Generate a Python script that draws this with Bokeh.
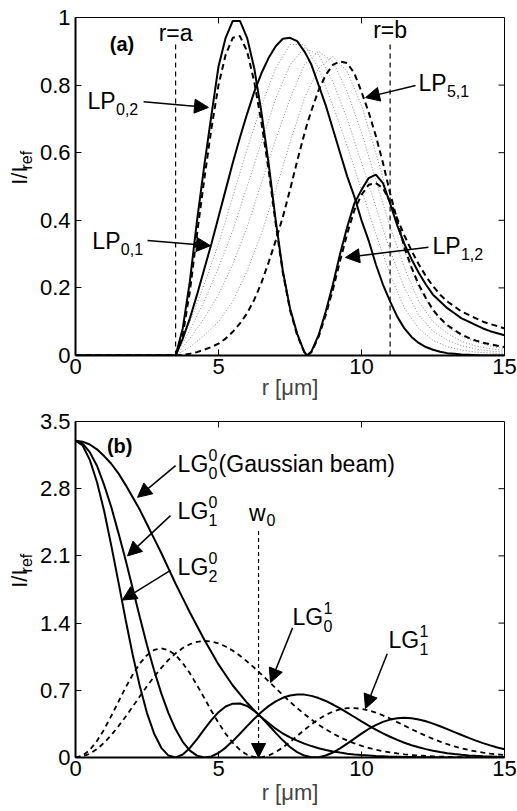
import math
from bokeh.plotting import figure
from bokeh.models import Label, Arrow, NormalHead, FixedTicker, Range1d, CustomJSTickFormatter
from bokeh.layouts import column, row
from bokeh.core.properties import value
from bokeh.embed import file_html
from bokeh.resources import INLINE

FONT = "Liberation Sans"

# ---------------- data: panel (a) ----------------
r_a = [0, 3.5, 3.75, 4, 4.25, 4.5, 4.75, 5, 5.25, 5.5, 5.75, 6, 6.25, 6.5, 6.75,
       7, 7.25, 7.5, 7.75, 8, 8.1, 8.25, 8.5, 8.75, 9, 9.25, 9.5, 9.75, 10, 10.25,
       10.5, 10.75, 11, 11.25, 11.5, 11.75, 12, 12.25, 12.5, 12.75, 13, 13.25,
       13.5, 13.75, 14, 14.25, 14.5, 14.75, 15]
lp01 = [0, 0, 0.05, 0.11, 0.18, 0.255, 0.33, 0.41, 0.49, 0.57, 0.645, 0.715, 0.78,
        0.835, 0.88, 0.915, 0.937, 0.94, 0.93, 0.90, 0.885, 0.86, 0.80, 0.74, 0.67,
        0.60, 0.53, 0.47, 0.40, 0.34, 0.27, 0.21, 0.16, 0.115, 0.08, 0.055, 0.037,
        0.025, 0.017, 0.011, 0.007, 0.005, 0.003, 0.002, 0.001, 0, 0, 0, 0]
lp02 = [0, 0, 0.08, 0.22, 0.40, 0.56, 0.71, 0.855, 0.94, 0.99, 0.99, 0.94, 0.85,
        0.72, 0.57, 0.40, 0.25, 0.14, 0.065, 0.01, 0, 0.012, 0.06, 0.13, 0.21,
        0.30, 0.38, 0.45, 0.49, 0.525, 0.535, 0.51, 0.45, 0.385, 0.33, 0.285,
        0.245, 0.21, 0.18, 0.16, 0.14, 0.125, 0.11, 0.10, 0.09, 0.08, 0.072,
        0.066, 0.06]
lp12 = [0, 0, 0.06, 0.19, 0.36, 0.52, 0.67, 0.80, 0.89, 0.94, 0.945, 0.90, 0.81,
        0.69, 0.55, 0.39, 0.245, 0.135, 0.06, 0.01, 0, 0.01, 0.055, 0.12, 0.195,
        0.28, 0.36, 0.43, 0.475, 0.505, 0.51, 0.495, 0.455, 0.405, 0.355, 0.31,
        0.27, 0.235, 0.205, 0.18, 0.16, 0.145, 0.13, 0.12, 0.11, 0.10, 0.093,
        0.087, 0.08]
lp51 = [0, 0, 0.002, 0.005, 0.01, 0.017, 0.025, 0.035, 0.05, 0.07, 0.095, 0.125,
        0.165, 0.215, 0.275, 0.34, 0.41, 0.49, 0.575, 0.655, 0.685, 0.725, 0.785,
        0.83, 0.86, 0.87, 0.865, 0.835, 0.78, 0.72, 0.65, 0.57, 0.48, 0.40, 0.32,
        0.26, 0.21, 0.17, 0.135, 0.11, 0.09, 0.075, 0.062, 0.052, 0.044, 0.038,
        0.033, 0.029, 0.025]

r_dot = [0, 3.5, 4, 4.5, 5, 5.5, 6, 6.5, 7, 7.5, 8, 8.5, 9, 9.5, 10, 10.5, 11,
         11.5, 12, 12.5, 13, 13.5, 14, 14.5, 15]
lp11 = [0, 0, 0.10, 0.21, 0.33, 0.47, 0.61, 0.74, 0.85, 0.92, 0.92, 0.85, 0.74,
        0.62, 0.49, 0.36, 0.24, 0.14, 0.08, 0.045, 0.026, 0.016, 0.010, 0.007, 0.005]
lp21 = [0, 0, 0.075, 0.16, 0.26, 0.37, 0.50, 0.63, 0.76, 0.86, 0.91, 0.89, 0.81,
        0.70, 0.57, 0.44, 0.31, 0.20, 0.12, 0.072, 0.045, 0.029, 0.019, 0.013, 0.010]
lp31 = [0, 0, 0.05, 0.11, 0.18, 0.27, 0.38, 0.51, 0.64, 0.76, 0.86, 0.90, 0.87,
        0.78, 0.66, 0.52, 0.38, 0.26, 0.16, 0.10, 0.065, 0.042, 0.028, 0.020, 0.015]
lp41 = [0, 0, 0.025, 0.06, 0.10, 0.16, 0.25, 0.36, 0.49, 0.63, 0.76, 0.85, 0.885,
        0.84, 0.74, 0.60, 0.45, 0.31, 0.20, 0.13, 0.085, 0.057, 0.040, 0.028, 0.020]

ring_r = [3.5, 11.0]          # r = a, r = b
ring_top = 0.926

# ---------------- data: panel (b) ----------------
r_b = [0, 0.25, 0.5, 0.75, 1, 1.25, 1.5, 1.75, 2, 2.25, 2.5, 2.75, 3,
       3.25, 3.5, 3.75, 4, 4.25, 4.5, 4.75, 5, 5.25, 5.5, 5.75, 6,
       6.25, 6.5, 6.75, 7, 7.25, 7.5, 7.75, 8, 8.25, 8.5, 8.75, 9,
       9.25, 9.5, 9.75, 10, 10.25, 10.5, 10.75, 11, 11.25, 11.5, 11.75, 12,
       12.25, 12.5, 12.75, 13, 13.25, 13.5, 13.75, 14, 14.25, 14.5, 14.75, 15]
lg00 = [3.30, 3.29, 3.26, 3.21, 3.14, 3.06, 2.96, 2.84, 2.71, 2.58, 2.43, 2.28, 2.13,
        1.97, 1.81, 1.66, 1.51, 1.37, 1.23, 1.10, 0.97, 0.86, 0.75, 0.66, 0.57,
        0.49, 0.42, 0.36, 0.30, 0.25, 0.21, 0.176, 0.145, 0.119, 0.097, 0.079, 0.063,
        0.051, 0.040, 0.032, 0.025, 0.020, 0.015, 0.012, 0.009, 0.007, 0.005, 0.004, 0.003,
        0.002, 0.002, 0.001, 0.001, 0.001, 0, 0, 0, 0, 0, 0, 0]
lg10 = [3.30, 3.27, 3.18, 3.04, 2.84, 2.61, 2.34, 2.06, 1.76, 1.46, 1.17, 0.907, 0.668,
        0.462, 0.293, 0.163, 0.072, 0.019, 0.0002, 0.011, 0.047, 0.103, 0.171, 0.248, 0.327,
        0.403, 0.474, 0.535, 0.585, 0.622, 0.646, 0.656, 0.655, 0.642, 0.619, 0.589, 0.552,
        0.511, 0.467, 0.422, 0.377, 0.333, 0.291, 0.252, 0.216, 0.183, 0.154, 0.128, 0.106,
        0.087, 0.070, 0.057, 0.045, 0.036, 0.028, 0.022, 0.017, 0.013, 0.010, 0.007, 0.006]
lg20 = [3.30, 3.25, 3.10, 2.87, 2.57, 2.21, 1.83, 1.44, 1.07, 0.741, 0.463, 0.248, 0.101,
        0.020, 0.0005, 0.031, 0.100, 0.192, 0.293, 0.390, 0.472, 0.531, 0.561, 0.563, 0.536,
        0.486, 0.418, 0.339, 0.257, 0.179, 0.110, 0.056, 0.020, 0.002, 0.003, 0.021, 0.052,
        0.095, 0.145, 0.197, 0.249, 0.297, 0.338, 0.371, 0.395, 0.409, 0.413, 0.409, 0.396,
        0.377, 0.353, 0.326, 0.296, 0.265, 0.234, 0.204, 0.176, 0.150, 0.126, 0.105, 0.086]
lg01 = [0, 0.010, 0.040, 0.088, 0.153, 0.233, 0.325, 0.425, 0.530, 0.637, 0.742, 0.842, 0.934,
        1.016, 1.085, 1.140, 1.180, 1.205, 1.214, 1.208, 1.188, 1.156, 1.113, 1.060, 1.000,
        0.935, 0.865, 0.794, 0.722, 0.650, 0.581, 0.515, 0.453, 0.395, 0.342, 0.294, 0.250,
        0.211, 0.177, 0.148, 0.122, 0.100, 0.082, 0.066, 0.053, 0.042, 0.033, 0.026, 0.021,
        0.016, 0.012, 0.009, 0.007, 0.005, 0.004, 0.003, 0.002, 0.002, 0.001, 0.001, 0.001]
lg11 = [0, 0.020, 0.079, 0.172, 0.292, 0.432, 0.580, 0.728, 0.863, 0.979, 1.066, 1.120, 1.138,
        1.119, 1.066, 0.983, 0.877, 0.753, 0.621, 0.487, 0.361, 0.247, 0.152, 0.079, 0.029,
        0.004, 0.002, 0.020, 0.056, 0.104, 0.162, 0.224, 0.287, 0.346, 0.399, 0.444, 0.478,
        0.501, 0.514, 0.515, 0.507, 0.491, 0.467, 0.438, 0.405, 0.369, 0.332, 0.295, 0.260,
        0.226, 0.194, 0.165, 0.139, 0.116, 0.095, 0.078, 0.063, 0.051, 0.040, 0.032, 0.025]
w0 = 6.4
w0_top = 2.36

x_ticks = [0, 5, 10, 15]
ya_ticks = [0, 0.2, 0.4, 0.6, 0.8, 1]
yb_ticks = [0, 0.7, 1.4, 2.1, 2.8, 3.5]

LW = 36          # width of the y-label strip
W = 517 - LW
HA = 408         # height of the upper row
HB = 811 - HA    # height of the lower row
TICK_PX = 22
LBL_PX = 23
SUB_PX = 16

fmt = CustomJSTickFormatter(code="return tick.toString();")


def make_fig(h, ymax, yt, bt, bb, xlab_standoff):
    p = figure(width=W, height=h, x_range=Range1d(0, 15), y_range=Range1d(0, ymax),
               output_backend="svg", toolbar_location=None,
               min_border_left=75 - LW, min_border_right=13, min_border_top=bt,
               min_border_bottom=bb)
    p.xgrid.visible = False
    p.ygrid.visible = False
    p.outline_line_color = "black"
    p.outline_line_width = 1
    for ax, tk in ((p.xaxis[0], x_ticks), (p.yaxis[0], yt)):
        ax.ticker = FixedTicker(ticks=tk)
        ax.formatter = fmt
        ax.major_tick_in = 6
        ax.major_tick_out = 0
        ax.minor_tick_line_color = None
        ax.axis_line_width = 2
        ax.major_tick_line_width = 1
        ax.major_label_text_font = FONT
        ax.major_label_text_font_size = f"{TICK_PX}px"
        ax.major_label_text_color = "black"
    p.xaxis[0].major_label_standoff = 3
    p.yaxis[0].major_label_standoff = 5
    p.xaxis[0].axis_label = "r [μm]"
    p.xaxis[0].axis_label_text_font = FONT
    p.xaxis[0].axis_label_text_font_size = "22px"
    p.xaxis[0].axis_label_text_font_style = "normal"
    p.xaxis[0].axis_label_standoff = xlab_standoff
    # mirrored ticks on the top and right edges of the box
    p.ray(x=x_ticks, y=[ymax] * len(x_ticks), length=6, length_units="screen",
          angle=-math.pi / 2, line_color="black", line_width=1)
    p.ray(x=[15] * len(yt), y=yt, length=6, length_units="screen",
          angle=math.pi, line_color="black", line_width=1)
    return p


def ylabel_strip(h, y_main, y_sub):
    f = figure(width=LW, height=h, x_range=Range1d(0, LW), y_range=Range1d(0, h),
               output_backend="svg", toolbar_location=None, min_border=0,
               x_axis_type=None, y_axis_type=None)
    f.grid.visible = False
    f.outline_line_color = None
    f.text(x=[18.5], y=[y_main], text=["I/I"], angle=math.pi / 2,
           text_font=value(FONT), text_font_size=value("22px"),
           text_align="left", text_baseline="middle", text_color="black")
    f.text(x=[26], y=[y_sub], text=["ref"], angle=math.pi / 2,
           text_font=value(FONT), text_font_size=value(f"{SUB_PX}px"),
           text_align="left", text_baseline="middle", text_color="black")
    return f


def lab(p, x, y, text, size, dx=0, dy=0, bold=False, align="left"):
    p.add_layout(Label(x=x, y=y, text=text, x_offset=dx, y_offset=dy,
                       text_font=FONT, text_font_size=f"{size}px",
                       text_baseline="middle", text_align=align,
                       text_font_style="bold" if bold else "normal",
                       text_color="black"))


def arrow(p, x0, y0, x1, y1, dash="solid", lw=1.5):
    p.add_layout(Arrow(x_start=x0, y_start=y0, x_end=x1, y_end=y1, line_width=lw,
                       line_dash=dash,
                       end=NormalHead(size=14, fill_color="black", line_color="black",
                                      line_width=1)))


def lp_label(p, x, y, sub):
    lab(p, x, y, "LP", LBL_PX)
    lab(p, x, y, sub, SUB_PX, dx=28.5, dy=-8)


def lg_label(p, x, y, sup, sub, tail=""):
    lab(p, x, y, "LG", LBL_PX)
    lab(p, x, y, sup, SUB_PX, dx=31, dy=9)
    lab(p, x, y, sub, SUB_PX, dx=31, dy=-9)
    if tail:
        lab(p, x, y, tail, LBL_PX, dx=41)


# ---------------- panel (a) ----------------
pa = make_fig(HA, 1, ya_ticks, 17, HA - 355, -2)
for ys in (lp11, lp21, lp31, lp41):
    pa.line(r_dot, ys, line_color="#8a8a8a", line_width=1, line_dash="1 2")
pa.line(r_a, lp01, line_color="black", line_width=2)
pa.line(r_a, lp02, line_color="black", line_width=2)
pa.line(r_a, lp12, line_color="black", line_width=2, line_dash="6 4")
pa.line(r_a, lp51, line_color="black", line_width=2, line_dash="6 4")
pa.segment(x0=ring_r, y0=[0, 0], x1=ring_r, y1=[ring_top, ring_top],
           line_color="black", line_width=1.2, line_dash="5 4")

lab(pa, 1.2, 0.923, "(a)", 20, bold=True)
lab(pa, 3.5, 0.953, "r=a", LBL_PX, align="center")
lab(pa, 11.0, 0.962, "r=b", LBL_PX, align="center")
lp_label(pa, 0.42, 0.754, "0,2")
arrow(pa, 2.38, 0.751, 4.65, 0.734)
lp_label(pa, 0.59, 0.34, "0,1")
arrow(pa, 2.52, 0.34, 4.72, 0.325)
lp_label(pa, 11.99, 0.805, "5,1")
arrow(pa, 11.89, 0.799, 10.14, 0.763)
lp_label(pa, 12.48, 0.325, "1,2")
arrow(pa, 12.34, 0.32, 9.44, 0.29)

# ---------------- panel (b) ----------------
pb = make_fig(HB, 3.5, yb_ticks, 421 - HA, 811 - 757, 1)
pb.line(r_b, lg00, line_color="black", line_width=2)
pb.line(r_b, lg10, line_color="black", line_width=2)
pb.line(r_b, lg20, line_color="black", line_width=2)
pb.line(r_b, lg01, line_color="black", line_width=1.8, line_dash="5 4")
pb.line(r_b, lg11, line_color="black", line_width=1.8, line_dash="5 4")
arrow(pb, w0, w0_top, w0, 0, dash="4 3", lw=1.2)

lab(pb, 1.1, 3.25, "(b)", 20, bold=True)
lg_label(pb, 3.57, 3.06, "0", "0", tail="(Gaussian beam)")
arrow(pb, 3.5, 3.04, 2.17, 2.71)
lg_label(pb, 3.57, 2.57, "0", "1")
arrow(pb, 3.32, 2.52, 1.82, 2.10)
lg_label(pb, 3.57, 1.98, "0", "2")
arrow(pb, 3.32, 1.95, 1.64, 1.64)
lab(pb, 6.36, 2.55, "w", LBL_PX, align="center")
lab(pb, 6.36, 2.55, "0", SUB_PX, dx=9, dy=-7)
lg_label(pb, 7.59, 1.46, "1", "0")
arrow(pb, 7.59, 1.35, 6.82, 0.78)
lg_label(pb, 10.94, 1.22, "1", "1")
arrow(pb, 10.9, 1.08, 10.14, 0.51)

la = ylabel_strip(HA, HA - 202, HA - 183.5)
lb = ylabel_strip(HB, HB - (607.5 - HA), HB - (589 - HA))

layout = column(row(la, pa, spacing=0), row(lb, pb, spacing=0), spacing=0)
open("out.html", "w").write(file_html(layout, INLINE))
